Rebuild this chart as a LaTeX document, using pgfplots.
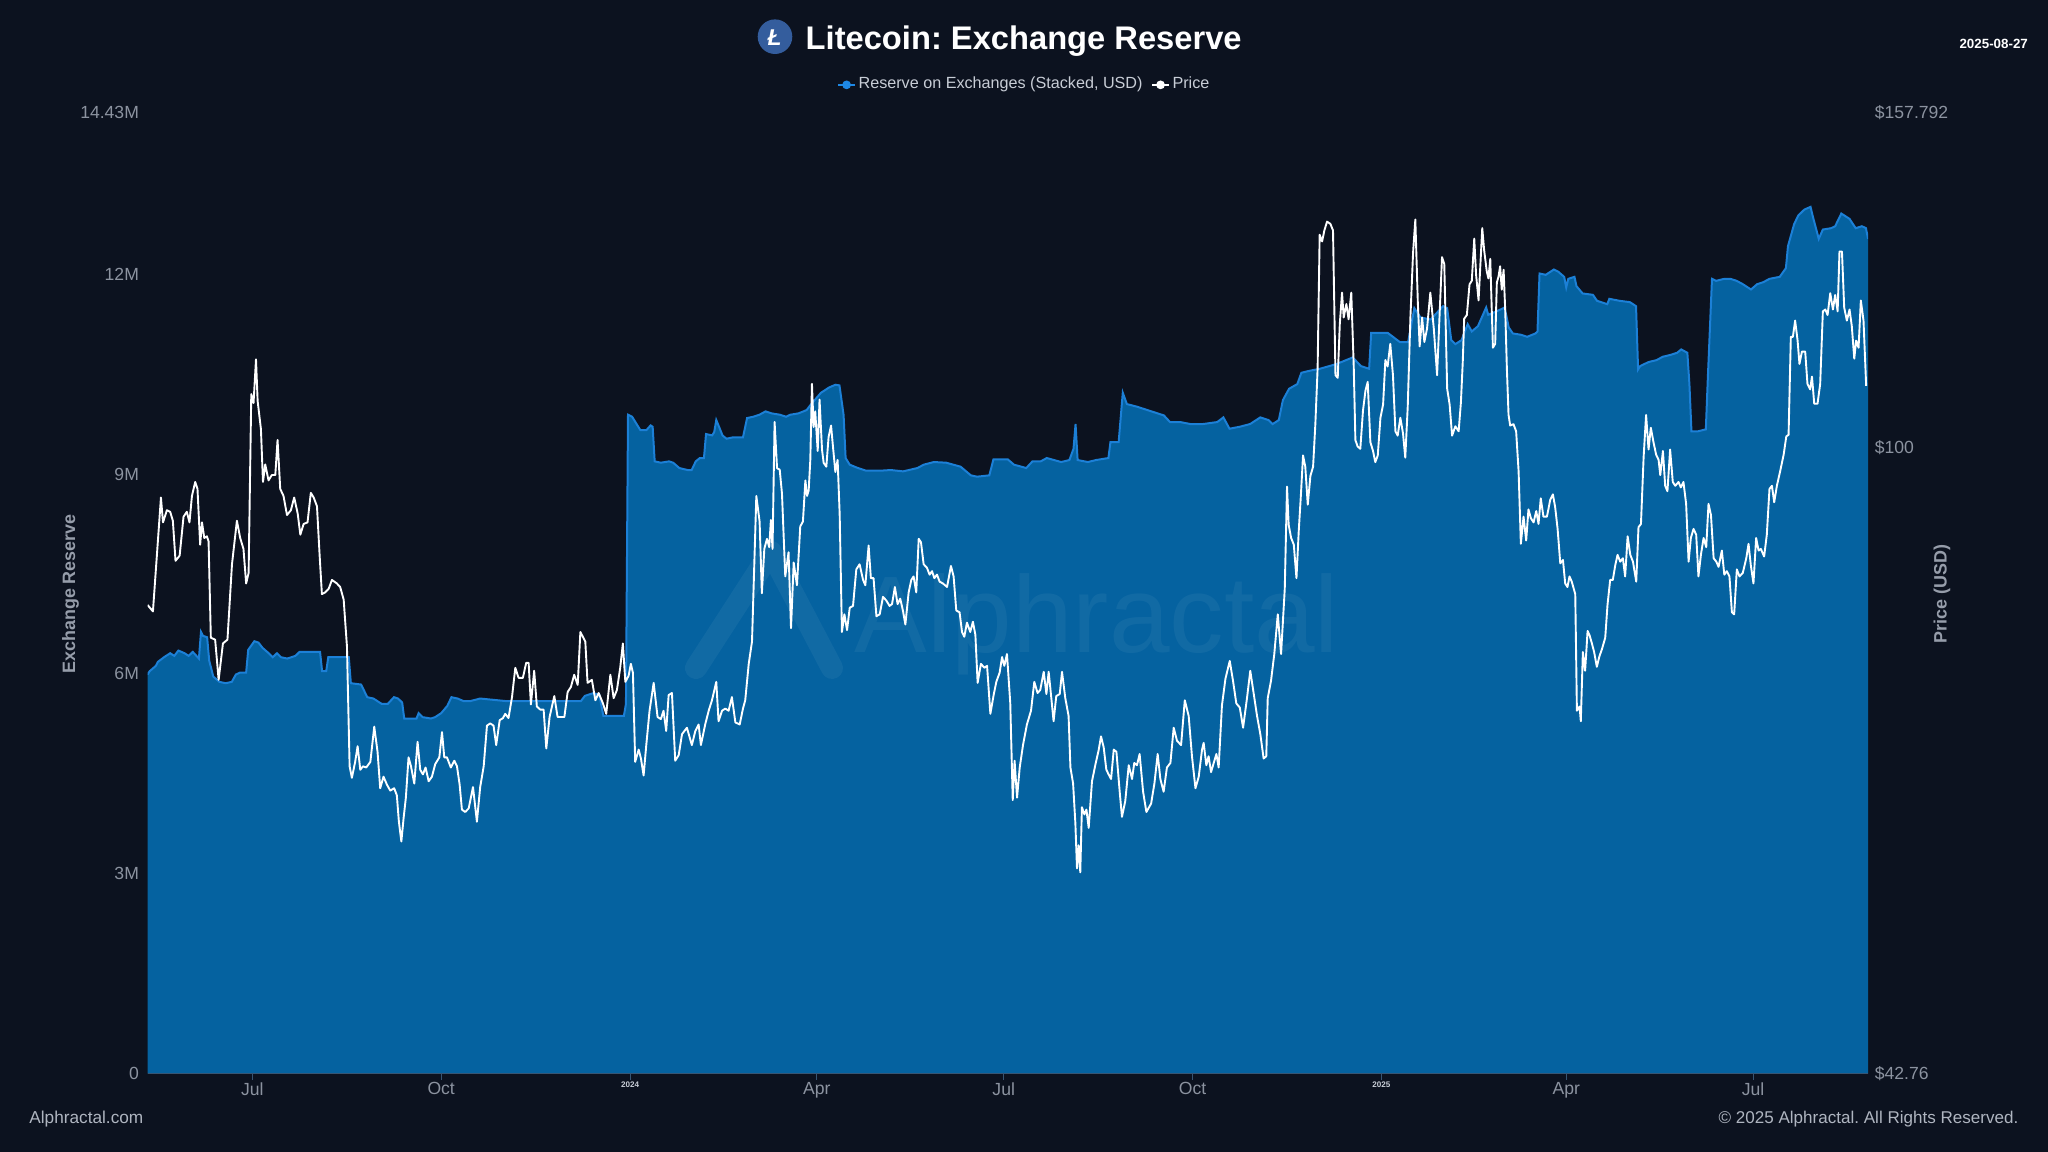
\documentclass[border=0pt]{standalone}
\usepackage{pgfplots}
\usepackage{pgfplotstable}
\pgfplotsset{compat=1.18}
\usepackage{fontspec}
\setmainfont{Liberation Sans}
\frenchspacing
\definecolor{bg}{RGB}{12,18,31}
\definecolor{areafill}{RGB}{5,98,160}
\definecolor{areaedge}{RGB}{28,128,215}
\definecolor{legendblue}{RGB}{30,136,229}
\definecolor{tickgrey}{RGB}{140,147,160}
\definecolor{titlegrey}{RGB}{150,157,170}
\definecolor{legendtext}{RGB}{200,205,214}
\definecolor{footgrey}{RGB}{175,181,192}
\definecolor{ltcblue}{RGB}{52,93,157}
\definecolor{axisline}{RGB}{55,85,115}
\newcommand{\yr}[1]{{\fontsize{2.3pt}{2.6pt}\selectfont\bfseries\color{legendtext}#1}}

% Reserve on exchanges (millions USD); d = days since 2023-07-01
\pgfplotstableread{
d r
-51 5.99
-50 6.04
-47 6.12
-46 6.18
-43 6.25
-40 6.31
-38 6.27
-36 6.35
-33 6.31
-31 6.27
-29 6.33
-26 6.23
-25 6.63
-24 6.57
-22 6.55
-21 6.20
-19 5.96
-16 5.88
-13 5.86
-10 5.88
-8 5.99
-6 6.02
-3 6.02
-2 6.36
1 6.49
3 6.47
5 6.39
8 6.31
10 6.25
12 6.31
14 6.25
17 6.23
19 6.25
21 6.27
23 6.33
33 6.33
34 6.04
36 6.04
37 6.25
47 6.25
48 5.86
53 5.84
56 5.65
59 5.63
61 5.59
63 5.55
66 5.55
69 5.65
71 5.63
73 5.57
74 5.33
77 5.33
80 5.33
81 5.41
83 5.35
87 5.33
89 5.35
92 5.41
95 5.52
97 5.65
100 5.63
103 5.59
106 5.59
111 5.63
124 5.59
141 5.59
160 5.59
162 5.67
166 5.71
169 5.69
171 5.37
181 5.37
182 5.55
183 9.89
185 9.86
187 9.76
189 9.66
192 9.66
194 9.73
195 9.71
196 9.19
199 9.17
203 9.19
205 9.17
208 9.09
212 9.06
214 9.06
216 9.19
218 9.24
220 9.24
221 9.60
224 9.58
225 9.63
226 9.81
228 9.66
229 9.58
231 9.53
234 9.55
239 9.55
241 9.84
244 9.86
247 9.89
250 9.94
253 9.91
257 9.89
260 9.86
262 9.89
266 9.91
270 9.96
272 10.04
277 10.22
281 10.30
284 10.34
286 10.33
288 9.89
289 9.24
291 9.14
295 9.09
299 9.05
306 9.05
311 9.06
317 9.04
324 9.09
327 9.14
332 9.18
338 9.17
345 9.11
350 8.98
353 8.96
359 8.98
361 9.22
364 9.22
368 9.22
371 9.14
377 9.09
380 9.19
384 9.19
387 9.24
394 9.18
398 9.21
400 9.38
401 9.75
402 9.21
407 9.18
411 9.21
417 9.24
418 9.48
422 9.48
424 10.22
426 10.05
431 10.01
437 9.95
444 9.88
447 9.78
452 9.78
457 9.75
463 9.75
470 9.78
473 9.85
476 9.68
481 9.71
486 9.75
491 9.85
495 9.81
497 9.75
500 9.81
502 10.11
505 10.28
509 10.35
511 10.52
515 10.55
520 10.58
528 10.65
536 10.75
540 10.62
544 10.58
545 11.12
553 11.12
559 10.98
563 10.98
566 11.49
569 11.35
574 11.32
580 11.52
582 11.49
584 11.01
586 10.95
589 11.01
592 11.25
594 11.14
597 11.22
599 11.36
601 11.50
602 11.39
606 11.44
610 11.50
612 11.20
614 11.11
618 11.09
621 11.06
625 11.11
626 11.14
627 12.01
630 11.99
634 12.07
636 12.04
639 11.96
640 11.80
641 11.93
644 11.96
645 11.82
648 11.71
653 11.69
655 11.60
660 11.55
661 11.63
666 11.60
671 11.58
674 11.52
675 10.57
676 10.62
680 10.68
684 10.71
687 10.76
691 10.79
694 10.82
696 10.87
699 10.82
700 10.35
701 9.64
704 9.64
708 9.67
709 10.46
711 11.93
713 11.90
717 11.93
720 11.93
723 11.90
726 11.85
730 11.77
733 11.85
736 11.88
739 11.93
744 11.96
747 12.09
748 12.42
751 12.75
753 12.88
756 12.97
759 13.01
760 12.88
763 12.53
765 12.67
769 12.69
771 12.72
774 12.91
778 12.83
781 12.69
784 12.72
786 12.69
787 12.53
}\reserve

% Price (USD)
\pgfplotstableread{
d p
-51.0 80.8
-48.4 80.1
-44.5 93.5
-43.5 90.4
-41.6 91.9
-40.0 91.7
-38.7 90.6
-37.4 85.8
-35.4 86.4
-33.5 91.1
-31.9 91.7
-30.6 90.4
-29.4 93.7
-27.8 95.5
-26.7 94.6
-25.4 87.7
-24.5 90.4
-23.4 88.5
-22.1 88.7
-21.3 88.1
-20.2 77.3
-18.1 77.1
-16.4 73.0
-14.3 76.7
-12.1 77.1
-9.9 85.4
-7.5 90.6
-5.9 88.5
-4.3 87.2
-3.0 83.2
-1.8 84.4
-0.5 107.6
0.6 106.3
1.8 112.8
2.6 106.6
4.2 102.6
5.2 95.5
6.3 97.8
7.9 95.7
9.5 96.4
11.2 96.4
12.3 101.1
13.6 94.6
15.2 93.7
16.9 91.3
18.8 91.9
20.4 93.5
22.1 91.5
23.4 88.9
25.0 90.2
26.9 90.4
28.5 94.1
29.9 93.5
31.5 92.4
32.8 86.4
33.9 82.0
35.5 82.2
37.2 82.6
38.8 83.6
41.2 83.2
42.8 82.8
44.5 81.4
46.1 76.4
47.4 64.9
48.5 63.9
50.1 65.3
51.3 66.7
52.6 64.6
53.9 64.9
55.5 64.8
57.5 65.3
59.4 68.5
61.0 66.2
62.3 63.0
63.9 64.0
65.6 63.3
67.2 62.8
69.1 63.0
70.4 62.4
71.4 60.2
72.6 58.6
73.7 60.5
74.8 62.2
76.1 65.7
77.3 64.9
78.9 63.4
80.5 67.1
81.8 64.6
83.1 64.2
84.4 64.8
85.9 63.6
87.5 64.0
89.1 65.1
91.1 65.7
92.4 68.0
93.5 65.7
94.8 65.7
96.7 64.8
98.4 65.4
99.7 64.9
101.0 63.3
102.1 61.2
103.7 61.0
105.4 61.3
107.5 63.1
109.4 60.2
111.0 63.1
112.7 64.9
114.3 68.6
115.9 68.8
117.5 68.6
118.8 66.8
120.5 69.1
122.1 69.3
123.2 69.7
124.8 69.3
126.5 71.3
128.1 74.2
129.7 73.2
131.8 73.2
133.4 74.7
134.6 74.7
135.7 70.6
137.3 73.9
138.6 70.4
140.3 70.1
141.9 70.1
143.2 66.5
144.8 69.4
147.1 71.4
148.7 69.4
150.3 69.4
152.0 69.4
153.6 71.8
155.2 72.3
156.8 73.5
158.5 72.5
159.8 77.9
162.2 76.9
163.3 72.7
165.4 73.0
167.1 71.0
168.7 71.7
170.8 70.7
172.4 69.7
174.4 73.5
176.0 71.2
177.6 72.0
179.2 74.2
180.5 76.7
181.7 72.8
183.3 73.4
184.4 74.6
185.4 73.7
186.5 65.3
188.2 66.4
189.3 65.6
190.6 64.1
191.9 66.8
193.5 70.0
195.5 72.7
197.4 69.4
199.0 69.2
200.3 70.0
201.6 68.1
202.8 71.5
204.4 71.7
206.0 65.4
207.7 65.9
209.3 67.8
211.7 68.4
214.1 66.8
215.8 68.1
217.4 68.7
218.5 66.8
220.6 68.7
222.3 70.0
223.9 71.0
226.0 72.8
227.1 69.0
228.8 70.0
230.4 70.2
232.0 70.0
233.6 71.3
235.3 68.9
237.4 68.7
239.0 70.2
240.1 71.0
241.8 74.6
243.4 76.9
245.5 93.7
247.1 90.5
248.2 82.1
249.4 87.2
250.7 88.4
251.8 87.4
252.6 90.7
253.4 87.2
254.4 103.6
255.6 97.3
256.9 97.1
258.0 94.0
259.6 84.0
261.2 86.8
262.4 78.3
263.7 85.6
265.3 83.0
266.9 89.9
268.2 90.5
269.4 95.7
270.2 93.7
271.0 94.4
271.8 98.4
272.6 109.1
273.4 102.9
274.2 105.1
275.4 99.6
276.3 106.8
277.5 99.8
278.3 98.0
279.6 97.5
280.7 101.5
281.9 103.1
282.8 100.3
284.0 96.8
285.1 98.4
286.1 91.4
287.2 77.9
288.4 79.8
289.7 78.1
291.0 80.5
292.6 80.7
294.2 84.8
295.8 85.4
297.5 83.6
298.6 83.0
300.2 87.6
301.3 83.8
302.6 83.8
304.0 79.6
305.6 79.8
307.2 81.7
308.8 81.3
310.4 80.7
311.6 80.9
313.0 82.8
314.3 80.9
315.6 81.5
316.9 80.2
318.1 78.7
319.7 82.2
321.0 83.6
322.1 84.0
323.4 82.2
324.6 88.4
325.7 88.0
327.0 85.4
328.6 85.0
329.9 84.2
331.1 84.6
332.2 83.8
333.5 84.2
334.8 83.4
336.4 83.2
338.4 82.8
340.3 85.2
341.6 84.0
342.9 80.2
344.5 80.0
345.7 77.9
346.8 77.4
348.1 78.9
349.7 77.9
351.0 79.0
352.2 77.6
353.3 72.7
354.9 74.6
356.6 74.2
357.9 74.4
359.5 69.7
361.1 71.5
362.4 72.8
364.0 73.7
365.2 75.3
366.3 74.4
367.6 75.6
369.2 70.7
370.4 62.0
371.3 65.4
372.5 62.2
373.8 64.8
375.4 66.8
377.3 68.7
379.3 70.0
380.9 72.8
382.5 71.7
383.8 72.0
385.5 73.8
386.8 71.6
387.9 73.8
388.7 72.2
390.3 69.0
391.6 71.4
393.3 71.6
394.4 73.8
396.0 71.2
397.6 69.5
398.5 64.8
399.8 63.4
400.9 60.1
401.7 56.5
402.5 58.3
403.3 56.2
404.1 61.4
405.3 60.8
406.3 61.2
407.4 59.7
409.0 63.6
410.6 65.0
412.3 66.4
413.4 67.6
414.7 66.6
416.0 64.6
417.1 64.2
418.3 63.8
419.6 66.4
420.9 66.2
422.5 62.7
423.6 60.6
425.2 61.9
426.9 65.0
428.5 63.8
429.6 65.2
430.9 65.0
432.2 66.0
433.9 62.7
435.5 61.0
437.8 61.7
439.4 63.4
441.0 66.0
442.3 63.8
443.9 62.7
445.5 64.8
447.2 65.2
448.8 68.4
450.4 67.2
452.4 66.8
454.2 71.0
456.1 69.5
457.7 65.8
459.4 63.0
461.0 64.0
462.6 66.4
463.4 67.0
464.7 65.0
465.8 65.8
467.0 64.4
468.3 65.2
469.6 66.0
470.7 64.8
472.3 70.5
474.0 73.1
476.1 74.9
477.7 72.9
479.3 70.7
481.0 70.3
482.6 68.4
484.5 71.2
486.1 73.9
487.8 71.6
489.4 69.5
491.0 67.8
492.6 65.6
493.9 65.8
494.6 71.2
496.2 72.9
497.8 75.6
499.5 79.8
501.1 75.6
502.9 82.6
504.0 94.9
504.8 90.1
506.0 88.5
507.3 87.7
508.6 83.8
509.7 89.3
510.8 94.0
511.8 99.0
512.9 97.5
514.1 92.6
515.4 96.3
516.7 97.5
517.8 103.3
518.9 111.4
519.9 133.6
521.1 132.4
522.2 134.4
523.5 136.0
525.1 135.6
526.4 134.4
527.6 110.4
528.7 110.0
529.7 118.3
530.8 123.5
531.6 119.4
532.9 121.6
534.0 119.1
535.3 123.5
536.5 111.7
537.3 101.1
538.4 100.2
539.7 99.9
541.0 105.2
542.2 108.1
543.3 109.4
544.6 100.8
545.9 99.6
547.0 98.1
548.2 99.0
549.5 104.2
550.8 106.1
551.9 112.7
553.0 111.7
554.3 115.2
555.6 110.4
556.8 102.3
557.9 101.7
559.2 104.2
560.5 102.0
561.6 98.7
562.8 105.8
564.1 119.4
565.4 130.4
566.5 136.4
567.7 122.0
568.6 114.8
569.8 119.4
570.9 115.5
572.2 117.6
573.8 123.5
575.5 117.6
577.1 110.4
578.4 120.5
579.5 129.6
580.6 128.4
582.0 108.4
583.2 106.1
584.4 101.7
586.0 103.0
587.6 102.3
588.7 106.4
589.6 112.4
590.3 119.2
591.6 119.8
592.9 124.9
594.0 125.5
595.2 132.9
596.1 126.5
597.3 122.2
598.1 127.7
599.1 134.8
600.0 130.9
601.3 127.1
602.1 125.9
603.0 129.3
603.8 119.8
604.3 114.6
605.4 115.2
606.2 125.2
607.0 126.2
607.8 128.0
608.6 124.0
609.5 127.4
610.3 120.4
611.1 111.3
611.9 104.6
612.7 103.1
614.3 103.3
615.6 102.3
616.8 96.9
617.9 87.8
619.2 91.1
620.5 88.2
621.6 92.0
622.8 90.9
624.1 90.4
625.4 91.8
626.5 90.2
627.6 93.4
628.9 91.1
630.6 91.1
632.2 93.2
633.5 93.9
634.6 92.3
635.8 89.6
637.1 85.5
638.4 85.9
639.5 83.2
640.6 82.8
641.6 84.0
642.7 83.4
644.4 82.0
645.2 70.0
646.5 70.4
647.1 69.0
648.1 75.8
649.2 73.9
650.4 78.0
651.3 77.6
652.5 76.7
653.6 75.8
654.9 74.3
656.2 75.4
657.4 76.1
659.0 77.3
660.1 80.8
661.4 83.6
662.7 83.6
663.9 85.3
665.0 86.5
666.3 85.7
667.6 86.1
668.7 84.0
669.9 88.7
671.2 86.5
672.5 85.7
674.1 83.4
675.2 89.8
676.4 90.2
677.7 98.8
678.9 104.6
680.1 99.8
681.2 102.8
682.5 100.8
683.8 99.1
685.0 98.4
685.8 96.4
687.1 99.6
688.2 95.0
689.3 94.3
690.6 99.8
691.9 95.5
693.1 95.0
694.7 95.5
695.8 94.8
697.1 95.5
698.4 92.7
699.6 85.7
700.7 88.5
702.0 89.6
703.3 88.9
704.4 84.0
705.6 86.5
706.9 88.5
708.2 87.4
709.3 92.7
710.5 91.3
711.8 86.1
713.1 85.7
714.2 85.1
715.8 87.0
717.0 84.2
718.2 84.6
719.5 84.0
720.7 80.0
721.8 79.8
723.1 84.8
724.4 84.0
726.0 84.4
727.7 86.1
728.8 87.8
729.9 85.3
731.2 83.2
732.5 88.5
733.7 87.0
734.8 87.2
736.4 86.3
737.7 88.9
739.0 94.6
740.2 95.0
741.3 92.9
742.6 95.0
744.2 96.9
745.9 99.1
747.2 101.6
748.3 101.8
749.4 116.3
750.4 116.3
751.5 118.9
752.7 115.7
753.6 112.1
754.8 114.0
756.4 114.0
757.5 109.1
758.8 108.3
759.7 110.2
760.8 106.2
762.4 106.2
763.7 109.1
765.0 120.4
766.2 120.7
767.3 119.8
768.6 123.4
769.9 120.7
771.0 123.1
772.2 120.4
773.1 130.6
774.3 130.6
775.4 121.0
776.7 118.9
778.0 120.7
779.1 118.0
780.3 112.9
781.2 115.7
782.4 114.6
783.5 122.2
784.8 118.9
786.1 108.8
}\price

\begin{document}
\begin{tikzpicture}
\useasboundingbox (0,0) rectangle (204.8mm,115.2mm);
\fill[bg] (0,0) rectangle (204.8mm,115.2mm);

\begin{axis}[
  at={(14.76mm,7.84mm)}, anchor=south west,
  scale only axis, width=172.04mm, height=96.13mm,
  xmin=-51, xmax=787, ymin=0, ymax=14.43,
  axis on top,
  axis x line*=bottom, axis y line*=left,
  x axis line style={axisline, line width=0.15mm, -},
  y axis line style={draw=none},
  xtick={0,92,184,275,366,458,550,640,731},
  xticklabels={Jul,Oct,\yr{2024},Apr,Jul,Oct,\yr{2025},Apr,Jul},
  ytick={0,3,6,9,12,14.43},
  yticklabels={0,3M,6M,9M,12M,14.43M},
  tick align=outside, major tick length=0.6mm,
  x tick style={axisline, line width=0.1mm},
  y tick style={draw=none},
  tick label style={font=\fontsize{5pt}{6pt}\selectfont, text=tickgrey},
  xticklabel style={anchor=north, inner sep=0pt, yshift=-0.2mm},
  yticklabel style={anchor=east, inner sep=0pt, xshift=-0.2mm},
]
\addplot[fill=areafill, draw=none] table[x=d, y=r] {\reserve} \closedcycle;
\addplot[areaedge, line width=0.2mm] table[x=d, y=r] {\reserve};
\end{axis}

% watermark
\draw[white, opacity=0.05, line width=2.2mm, line join=round, line cap=round]
  (69.6mm,48.4mm) -- (77.1mm,60.0mm) -- (83.2mm,48.4mm);
\node[anchor=base, font=\fontsize{31pt}{31pt}\selectfont, text=white, opacity=0.05, inner sep=0pt]
  at (109.7mm,49.9mm) {Alphractal};

\begin{axis}[
  at={(14.76mm,7.84mm)}, anchor=south west,
  scale only axis, width=172.04mm, height=96.13mm,
  xmin=-51, xmax=787, ymode=log, ymin=42.76, ymax=157.792,
  axis x line=none, axis y line*=right,
  y axis line style={draw=none},
  ytick={42.76,100,157.792},
  yticklabels={\$42.76,\$100,\$157.792},
  major tick length=0pt, minor tick num=0,
  y tick style={draw=none}, minor y tick style={draw=none},
  tick label style={font=\fontsize{5pt}{6pt}\selectfont, text=tickgrey},
  yticklabel style={anchor=west, inner sep=0pt, xshift=0.62mm},
  legend columns=2,
  legend style={at={(0.5097,1.0285)}, anchor=center, draw=none, fill=none,
    text=legendtext, font=\fontsize{4.6pt}{5.5pt}\selectfont, inner sep=0pt,
    nodes={inner sep=0.25mm},
    /tikz/every even column/.append style={column sep=0.6mm}},
  legend image code/.code={\draw[mark repeat=2, mark phase=2, #1]
    plot coordinates {(0mm,0mm) (0.85mm,0mm) (1.7mm,0mm)};},
]
\addlegendimage{legendblue, line width=0.2mm, mark=*, mark size=0.33mm, mark options={fill=legendblue, draw=legendblue}}
\addlegendentry{Reserve on Exchanges (Stacked, USD)}
\addplot[white, line width=0.19mm, line join=round, forget plot] table[x=d, y=p] {\price};
\addlegendimage{white, line width=0.2mm, mark=*, mark size=0.33mm, mark options={fill=white, draw=white}}
\addlegendentry{Price}
\end{axis}

% title
\fill[ltcblue] (77.5mm,111.53mm) circle (1.73mm);
\node[text=white, font=\bfseries\itshape\fontsize{6.5pt}{6.5pt}\selectfont, inner sep=0pt] at (77.45mm,111.45mm) {Ł};
\node[anchor=base west, font=\bfseries\fontsize{9.3pt}{11pt}\selectfont, text=white, inner sep=0pt]
  at (80.5mm,110.27mm) {Litecoin: Exchange Reserve};
\node[font=\bfseries\fontsize{3.8pt}{4.5pt}\selectfont, text=white, inner sep=0pt]
  at (199.37mm,110.76mm) {2025-08-27};

% axis titles
\node[rotate=90, font=\bfseries\fontsize{5.1pt}{6pt}\selectfont, text=titlegrey, inner sep=0pt]
  at (7.05mm,55.8mm) {Exchange Reserve};
\node[rotate=90, font=\bfseries\fontsize{5.1pt}{6pt}\selectfont, text=titlegrey, inner sep=0pt]
  at (194.2mm,55.8mm) {Price (USD)};

% footer
\node[anchor=west, font=\fontsize{4.9pt}{6pt}\selectfont, text=footgrey, inner sep=0pt]
  at (2.87mm,3.27mm) {Alphractal.com};
\node[anchor=east, font=\fontsize{4.85pt}{6pt}\selectfont, text=footgrey, inner sep=0pt]
  at (201.9mm,3.27mm) {© 2025 Alphractal. All Rights Reserved.};
\end{tikzpicture}
\end{document}
